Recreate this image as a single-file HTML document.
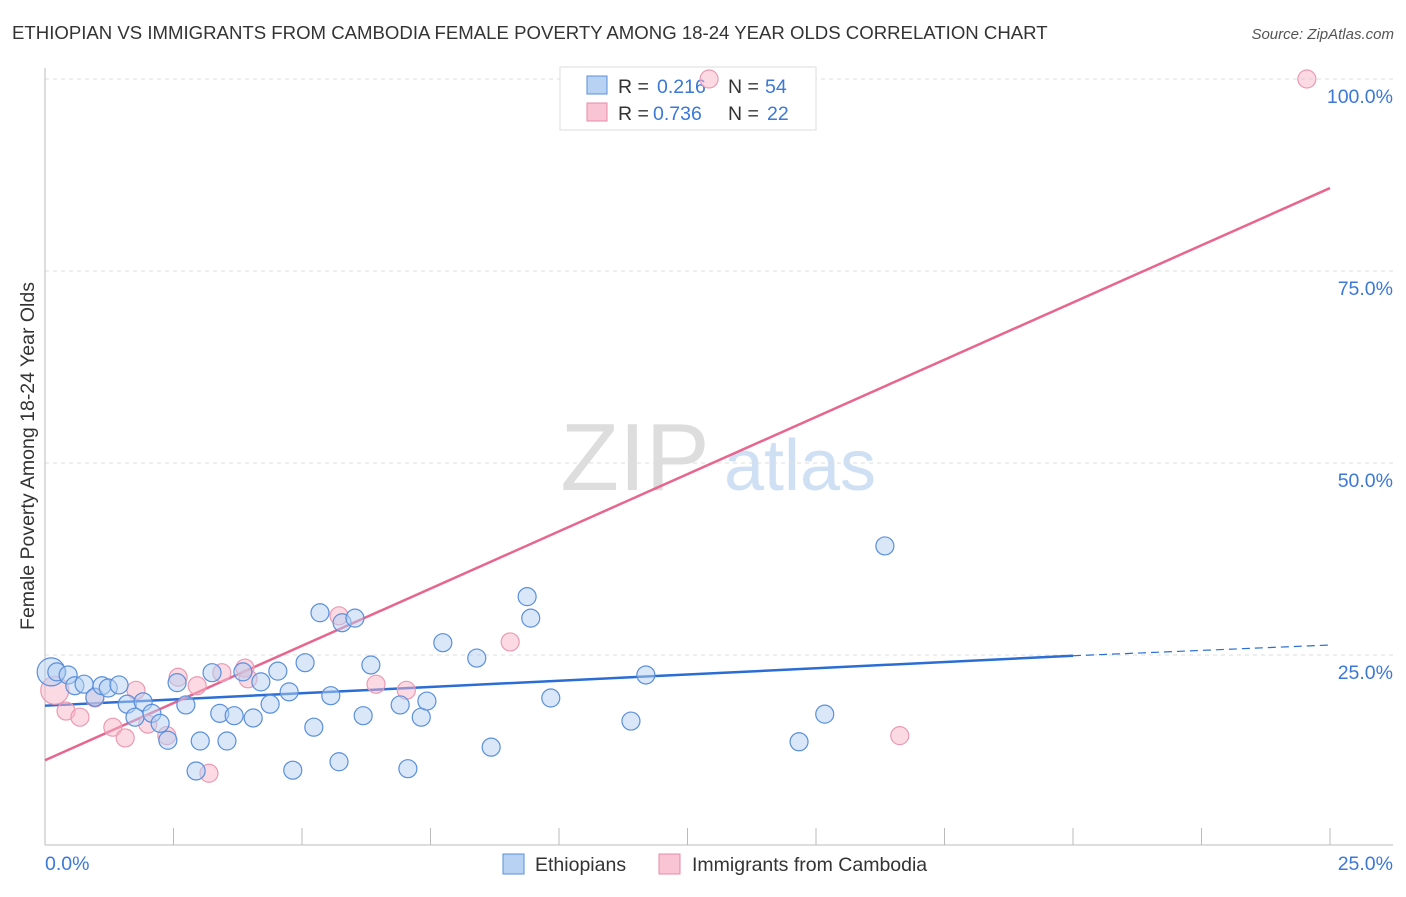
<!DOCTYPE html>
<html><head><meta charset="utf-8"><style>
body{margin:0;background:#fff;font-family:"Liberation Sans",sans-serif}
svg text{font-family:"Liberation Sans",sans-serif}
</style></head><body>
<svg id="c" width="1406" height="892">
<text x="12" y="39" font-size="18.6" fill="#333">ETHIOPIAN VS IMMIGRANTS FROM CAMBODIA FEMALE POVERTY AMONG 18-24 YEAR OLDS CORRELATION CHART</text>
<text x="1394" y="39" font-size="15" fill="#555" font-style="italic" text-anchor="end">Source: ZipAtlas.com</text>
<text x="34" y="456" font-size="19.5" fill="#333" text-anchor="middle" transform="rotate(-90 34 456)">Female Poverty Among 18-24 Year Olds</text>
<g><text x="635" y="490" font-size="96" fill="#ddd" font-family="Liberation Serif" text-anchor="middle">ZIP</text><text x="800" y="490" font-size="72" fill="#cfe0f4" text-anchor="middle">atlas</text></g>
<g id="grid"></g><g id="axes"></g>
<g>
<rect x="560" y="67" width="256" height="63" fill="#fff" stroke="#ddd"/>
<rect x="587" y="76" width="20" height="18" fill="#b8d2f4" stroke="#5a8fdc"/>
<rect x="587" y="103" width="20" height="18" fill="#f9c4d4" stroke="#e889a6"/>
<text x="618" y="93" font-size="19.5" fill="#333">R =</text><text x="657" y="93" font-size="19.5" fill="#3b78d8">0.216</text>
<text x="728" y="93" font-size="19.5" fill="#333">N =</text><text x="765" y="93" font-size="19.5" fill="#3b78d8">54</text>
<text x="618" y="120" font-size="19.5" fill="#333">R =</text><text x="653" y="120" font-size="19.5" fill="#3b78d8">0.736</text>
<text x="728" y="120" font-size="19.5" fill="#333">N =</text><text x="767" y="120" font-size="19.5" fill="#3b78d8">22</text>
</g>
<g id="lines"></g><g id="pts"></g>
<g>
<rect x="503" y="854" width="21" height="20" fill="#b8d2f4" stroke="#5a8fdc"/>
<text x="535" y="871" font-size="19.5" fill="#333">Ethiopians</text>
<rect x="659" y="854" width="21" height="20" fill="#f9c4d4" stroke="#e889a6"/>
<text x="692" y="871" font-size="19.5" fill="#333">Immigrants from Cambodia</text>
</g>
</svg>
<script>
const blueX=[0.12,0.23,0.45,0.58,0.76,0.97,1.11,1.23,1.44,1.60,1.91,1.75,2.08,2.24,2.39,2.57,2.74,2.94,3.02,3.25,3.40,3.68,3.54,3.85,4.05,4.20,4.38,4.53,4.75,4.82,5.06,5.23,5.35,5.56,5.78,6.03,5.72,6.19,6.34,6.91,7.06,7.32,7.43,7.74,8.40,8.68,9.38,9.45,9.84,11.40,11.69,14.67,15.17,16.34];
const blueY=[22.8,22.8,22.4,21.0,21.2,19.5,21.0,20.7,21.1,18.6,18.9,16.9,17.4,16.1,13.9,21.4,18.5,9.9,13.8,22.7,17.4,17.1,13.8,22.8,16.8,21.5,18.6,22.9,20.2,10.0,24.0,15.6,30.5,19.7,29.2,29.8,11.1,17.1,23.7,18.5,10.2,16.9,19.0,26.6,24.6,13.0,32.6,29.8,19.4,16.4,22.4,13.7,17.3,39.2];
const pinkX=[0.19,0.41,0.68,0.97,1.32,1.56,1.77,2.00,2.37,2.59,2.96,3.19,3.44,3.89,3.95,5.72,6.44,7.03,9.05,16.63,12.92,24.55];
const pinkY=[20.4,17.7,16.9,19.4,15.6,14.2,20.4,16.0,14.5,22.1,21.0,9.6,22.7,23.3,21.9,30.1,21.2,20.4,26.7,14.5,100,100];
const blueTrend=[18.4,24.9,26.3];
const pinkTrend=[11.3,85.8];
const yTicks=[25,50,75,100];
const yTickLabels=["25.0%","50.0%","75.0%","100.0%"];
const xTickLabels=["0.0%","25.0%"];
const NS="http://www.w3.org/2000/svg";
const X=v=>45+v/25*1285, Y=v=>847-v/100*768;
function mk(t,a,p){const e=document.createElementNS(NS,t);for(const k in a)e.setAttribute(k,a[k]);p.appendChild(e);return e;}
const grid=document.getElementById('grid'),axes=document.getElementById('axes'),lines=document.getElementById('lines'),pts=document.getElementById('pts');
yTicks.forEach((t,i)=>{
 const g=mk('line',{x1:45,x2:1393,y1:Y(t),y2:Y(t),stroke:'#ddd','stroke-dasharray':'4,4'},grid);
 
 
 const l=mk('text',{x:1393,y:Y(t)+24,'font-size':19.5,fill:'#3b78d8','text-anchor':'end'},axes);
 l.textContent=yTickLabels[i];
 
 
});
const ax=mk('line',{x1:45,x2:1393,y1:845,y2:845,stroke:'#bbb'},axes);


const ay=mk('line',{x1:45,x2:45,y1:68,y2:845,stroke:'#bbb'},axes);


for(let i=1;i<=10;i++){const tk=mk('line',{x1:X(i*2.5),x2:X(i*2.5),y1:828,y2:845,stroke:'#bbb'},axes);
 
 }
[[0,'start',45],[25,'end',1393]].forEach((d,i)=>{const t=mk('text',{x:d[2],y:870,'font-size':19.5,fill:'#3b78d8','text-anchor':d[1]},axes);t.textContent=xTickLabels[i];
 
 });
function dot(x,y,r,f,s,n){const c=mk('circle',{cx:X(x),cy:Y(y),r:r,fill:f,'fill-opacity':0.5,stroke:s,'stroke-width':1.2},pts);
 
 }
pinkX.forEach((x,i)=>dot(x,pinkY[i],i==0?14:9,'#f7b6c9','#eb9ab3','cambodia-point'));
blueX.forEach((x,i)=>dot(x,blueY[i],i==0?14:9,'#b4cff2','#5a8fdc','ethiopian-point'));
const bl=mk('line',{x1:X(0),y1:Y(blueTrend[0]),x2:X(20),y2:Y(blueTrend[1]),stroke:'#2a6dd4','stroke-width':2.5},lines);


const bd=mk('line',{x1:X(20),y1:Y(blueTrend[1]),x2:X(25),y2:Y(blueTrend[2]),stroke:'#2a6dd4','stroke-width':1.2,'stroke-dasharray':'8,5'},lines);


const pl=mk('line',{x1:X(0),y1:Y(pinkTrend[0]),x2:X(25),y2:Y(pinkTrend[1]),stroke:'#e8658e','stroke-width':2.5},lines);


</script>
</body></html>
